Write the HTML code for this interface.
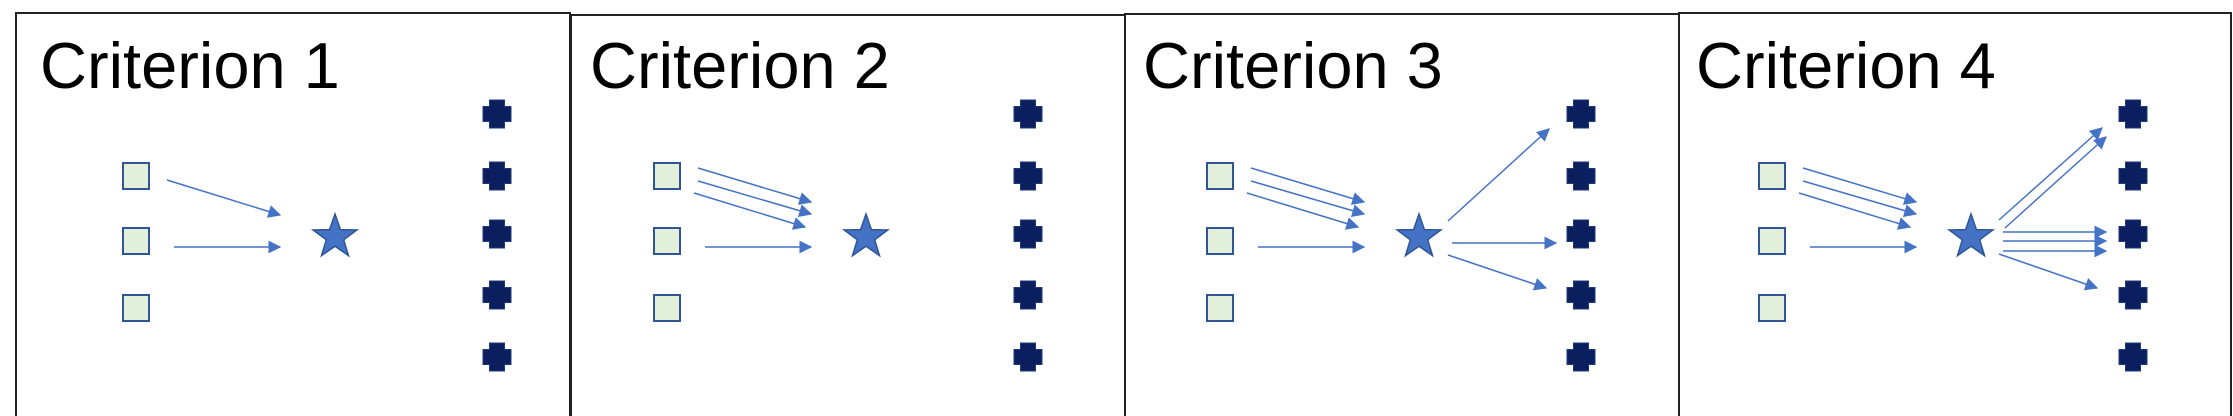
<!DOCTYPE html>
<html><head><meta charset="utf-8"><style>
html,body{margin:0;padding:0;background:#fff;width:2233px;height:416px;overflow:hidden}
svg{display:block}
text{font-family:"Liberation Sans",Arial,sans-serif;fill:#000}
</style></head><body>
<svg id="fig" width="2233" height="416" viewBox="0 0 2233 416">
<defs>
<marker id="ah" viewBox="0 0 10 10" refX="9" refY="5" markerWidth="13" markerHeight="13" markerUnits="userSpaceOnUse" orient="auto">
<path d="M0,0 L10,5 L0,10 z" fill="#4472c4"/></marker>
</defs>
</svg>
<script>
// Panel layout data
const panelTitles = ["Criterion 1","Criterion 2","Criterion 3","Criterion 4"];
const panelLeft = [16, 571, 1125, 1679];
const panelRight = [570, 1125, 1679, 2231];
const panelTop = [13, 15, 14, 13];
const contentX = [123, 654, 1207, 1759];
const titleX = [40, 590, 1143, 1696];
// node rows (relative y)
const squareY = [176, 241, 308];
const crossY = [114, 176, 234, 295, 357];
const starY = 237;
// arrows relative to content origin: [x1,y1,x2,y2]
const inArrows1 = [[44,180,157,215],[51,247,157,247]];
const inArrowsN = [[44,168,157,202],[44,181,157,214],[40,193,151,227],[51,247,157,247]];
const outArrows3 = [[241,221,342,129],[245,243,349,243],[241,255,339,288]];
const outArrows4 = [[240,220,343,128],[246,228,347,137],[244,232,347,232],[244,241,347,241],[244,251,347,251],[240,254,338,288]];
const panelArrows = [inArrows1, inArrowsN, inArrowsN.concat(outArrows3), inArrowsN.concat(outArrows4)];

const NS="http://www.w3.org/2000/svg";
const svg=document.getElementById('fig');
function mk(tag,attrs,parent){const e=document.createElementNS(NS,tag);for(const k in attrs)e.setAttribute(k,attrs[k]);(parent||svg).appendChild(e);return e;}
function starPath(cx,cy,R,r){let d="";for(let i=0;i<10;i++){const a=-Math.PI/2+i*Math.PI/5;const rr=i%2?r:R;d+=(i?"L":"M")+(cx+rr*Math.cos(a)).toFixed(1)+","+(cy+rr*Math.sin(a)).toFixed(1);}return d+"Z";}
function crossPath(cx,cy){const a=14,b=7.5;return `M${cx-b},${cy-a}H${cx+b}V${cy-b}H${cx+a}V${cy+b}H${cx+b}V${cy+a}H${cx-b}V${cy+b}H${cx-a}V${cy-b}H${cx-b}Z`;}

panelTitles.forEach((t,i)=>{
  const g=mk('g',{});
  
  
  const box=mk('path',{d:`M${panelLeft[i]},416V${panelTop[i]}H${panelRight[i]}V416`,fill:'none',stroke:'#222','stroke-width':2},g);
  
  
  const tx=mk('text',{x:titleX[i],y:88,'font-size':65},g);
  tx.textContent=t;
  
  
  const ox=contentX[i];
  squareY.forEach(y=>{
    const s=mk('rect',{x:ox,y:y-13,width:26,height:26,fill:'#e2efda',stroke:'#2f5597','stroke-width':2},g);
    
    
  });
  const st=mk('path',{d:starPath(ox+212,starY,23,9.2),fill:'#4472c4',stroke:'#2f5597','stroke-width':1.5},g);
  
  
  crossY.forEach(y=>{
    const c=mk('path',{d:crossPath(ox+374,y),fill:'#0b1f5e',stroke:'#1f3a7a','stroke-width':1},g);
    
    
  });
  panelArrows[i].forEach(a=>{
    const l=mk('line',{x1:ox+a[0],y1:a[1],x2:ox+a[2],y2:a[3],stroke:'#4472c4','stroke-width':1.5,'marker-end':'url(#ah)'},g);
    
    
  });
});
</script>
</body></html>
